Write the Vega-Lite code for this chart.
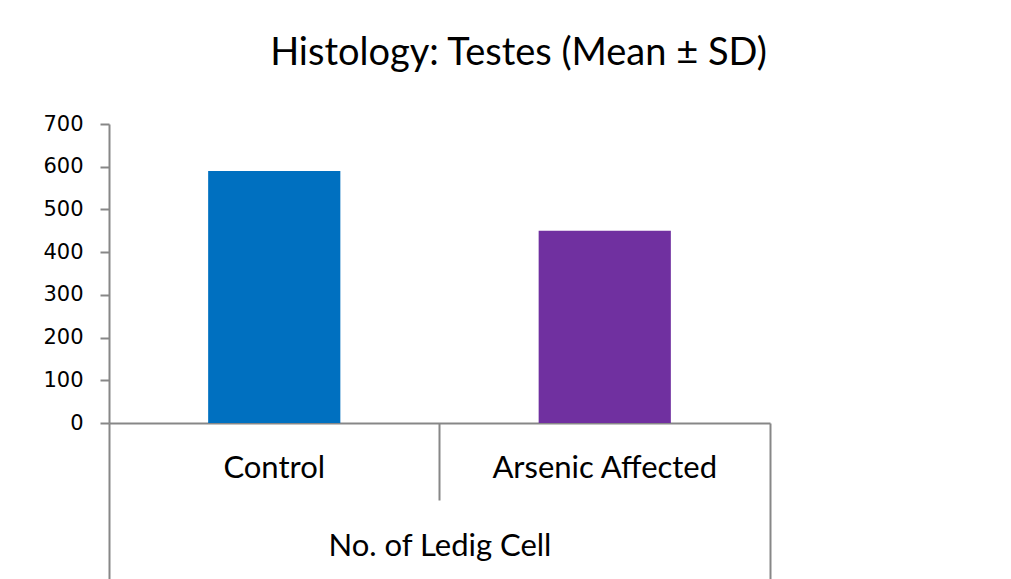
{
  "$schema": "https://vega.github.io/schema/vega-lite/v6.json",
  "width": 661,
  "height": 299,
  "autosize": "none",
  "padding": {"left": 109, "top": 124, "right": 241, "bottom": 156},
  "background": "white",
  "config": {"view": {"stroke": null}, "axis": {"grid": false}},
  "title": {
    "text": "Histology: Testes (Mean ± SD)",
    "font": "Lato",
    "fontSize": 38,
    "fontWeight": "normal",
    "color": "black",
    "anchor": "middle",
    "baseline": "alphabetic",
    "offset": 10,
    "dx": 79
  },
  "data": {
    "values": [
      {"group": "Control", "value": 590, "color": "#0070C0"},
      {"group": "Arsenic Affected", "value": 450, "color": "#7030A0"}
    ]
  },
  "encoding": {
    "y": {
      "field": "value",
      "type": "quantitative",
      "scale": {"domain": [0, 700], "nice": false},
      "axis": {
        "values": [0, 100, 200, 300, 400, 500, 600, 700],
        "title": null,
        "domainColor": "#878787",
        "domainWidth": 2,
        "tickColor": "#878787",
        "tickWidth": 2,
        "tickSize": 9,
        "labelFont": "DejaVu Sans",
        "labelFontSize": 21,
        "labelColor": "black",
        "labelPadding": 17
      }
    }
  },
  "layer": [
    {
      "mark": {"type": "bar"},
      "encoding": {
        "color": {"field": "color", "type": "nominal", "scale": null},
        "x": {
          "field": "group",
          "type": "nominal",
          "sort": null,
          "scale": {"paddingInner": 0.6, "paddingOuter": 0.3},
          "axis": {
            "orient": "bottom",
            "domain": false,
            "ticks": false,
            "labelAngle": 0,
            "labelFont": "Lato",
            "labelFontSize": 31,
            "labelColor": "black",
            "labelPadding": 30,
            "labelBaseline": "top",
            "labelLimit": 500,
            "title": "No. of Ledig Cell",
            "titleFont": "Lato",
            "titleFontSize": 31,
            "titleFontWeight": "normal",
            "titleColor": "black",
            "titlePadding": 48
          }
        }
      }
    },
    {
      "mark": {"type": "bar", "opacity": 0},
      "encoding": {
        "x": {
          "field": "group",
          "type": "nominal",
          "sort": null,
          "axis": {
            "orient": "bottom",
            "bandPosition": -0.75,
            "labels": false,
            "domain": true,
            "domainColor": "#878787",
            "domainWidth": 2,
            "tickColor": "#878787",
            "tickWidth": 2,
            "tickSize": {"condition": {"test": "datum.value === 'Control'", "value": 156}, "value": 77},
            "title": null
          }
        }
      }
    },
    {
      "mark": {"type": "bar", "opacity": 0},
      "encoding": {
        "x": {
          "field": "group",
          "type": "nominal",
          "sort": null,
          "axis": {
            "orient": "bottom",
            "bandPosition": 1.75,
            "labels": false,
            "domain": false,
            "tickColor": "#878787",
            "tickWidth": 2,
            "tickOpacity": {"condition": {"test": "datum.value === 'Control'", "value": 0}, "value": 1},
            "tickSize": 156,
            "title": null
          }
        }
      }
    }
  ],
  "resolve": {"axis": {"x": "independent"}}
}
